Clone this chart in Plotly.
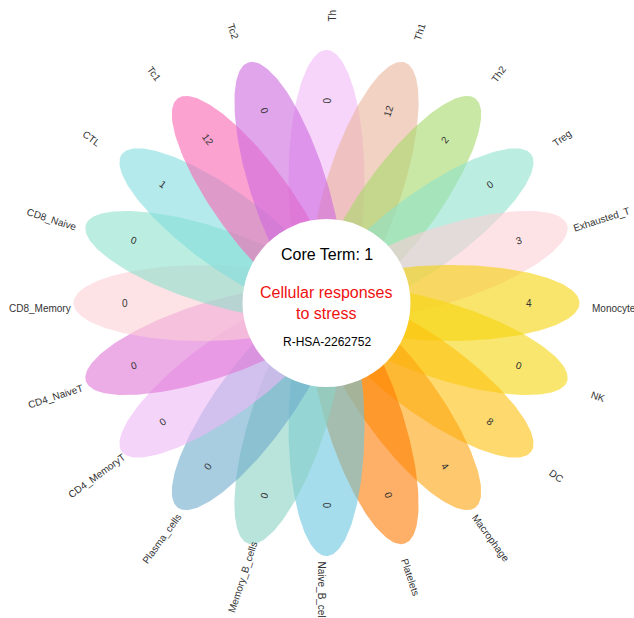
import numpy as np
import plotly.graph_objects as go

categories = ["Th", "Th1", "Th2", "Treg", "Exhausted_T", "Monocyte", "NK", "DC",
              "Macrophage", "Platelets", "Naive_B_cell", "Memory_B_cells",
              "Plasma_cells", "CD4_MemoryT", "CD4_NaiveT", "CD8_Memory",
              "CD8_Naive", "CTL", "Tc1", "Tc2"]
values = [0, 12, 2, 0, 3, 4, 0, 8, 4, 0, 0, 0, 0, 0, 0, 0, 0, 1, 12, 0]
colors = ["rgb(242,185,248)", "rgb(233,180,155)", "rgb(167,217,105)", "rgb(142,225,203)",
          "rgb(252,207,213)", "rgb(245,210,10)", "rgb(245,213,13)", "rgb(253,192,13)",
          "rgb(253,163,13)", "rgb(253,122,3)", "rgb(105,198,223)", "rgb(138,210,197)",
          "rgb(110,170,203)", "rgb(238,183,247)", "rgb(223,117,213)", "rgb(252,207,213)",
          "rgb(142,225,203)", "rgb(130,220,222)", "rgb(250,100,177)", "rgb(205,105,223)"]
core_count = 1
term_name = "Cellular responses<br>to stress"
term_id = "R-HSA-2262752"

W, H = 634, 618
CX, CY = 326.5, 303.0
PET_D, PET_A, PET_B = 124.0, 129.0, 38.0
ALPHA = 0.6
R_VAL, R_LAB, LAB_SHIFT = 202.0, 287.0, 5.0
R_CORE = 84.0
FONT = "Arial, Liberation Sans, sans-serif"

fig = go.Figure()
n = len(categories)
t = np.linspace(0, 2 * np.pi, 200)
annotations = []
for i, (cat, val, col) in enumerate(zip(categories, values, colors)):
    ang = 360.0 * i / n
    a = np.radians(ang)
    rx, ry = np.sin(a), -np.cos(a)      # radial direction (screen coords)
    px, py = np.cos(a), np.sin(a)       # perpendicular
    u = PET_D + PET_A * np.cos(t)
    v = PET_B * np.sin(t)
    xs = CX + u * rx + v * px
    ys = CY + u * ry + v * py
    rgb = col[4:-1]
    fig.add_trace(go.Scatter(x=xs, y=ys, mode="lines", fill="toself",
                             fillcolor=f"rgba({rgb},{ALPHA})",
                             line=dict(width=0), hoverinfo="skip", showlegend=False))
    rot = ang - 90 if ang <= 180 else ang - 270
    th = np.radians(rot)
    dx, dy = -np.sin(th), np.cos(th)    # text "down" direction
    annotations.append(dict(x=CX + R_VAL * rx, y=CY + R_VAL * ry, text=str(val),
                            showarrow=False, textangle=rot, xanchor="center", yanchor="middle",
                            font=dict(size=10, color="#333333", family=FONT)))
    annotations.append(dict(x=CX + R_LAB * rx + LAB_SHIFT * dx,
                            y=CY + R_LAB * ry + LAB_SHIFT * dy, text=cat,
                            showarrow=False, textangle=rot, xanchor="center", yanchor="middle",
                            font=dict(size=10, color="#333333", family=FONT)))

annotations.append(dict(x=CX, y=254, text=f"Core Term: {core_count}", showarrow=False,
                        xanchor="center", yanchor="middle",
                        font=dict(size=16, color="#000000", family=FONT)))
annotations.append(dict(x=CX, y=302.5, text=term_name, showarrow=False,
                        xanchor="center", yanchor="middle",
                        font=dict(size=16, color="#ee1111", family=FONT)))
annotations.append(dict(x=CX, y=342, text=term_id, showarrow=False,
                        xanchor="center", yanchor="middle",
                        font=dict(size=12, color="#000000", family=FONT)))

fig.update_layout(
    width=W, height=H, margin=dict(l=0, r=0, t=0, b=0),
    paper_bgcolor="white", plot_bgcolor="white",
    xaxis=dict(range=[0, W], visible=False, fixedrange=True),
    yaxis=dict(range=[H, 0], visible=False, fixedrange=True),
    shapes=[dict(type="circle", xref="x", yref="y",
                 x0=CX - R_CORE, x1=CX + R_CORE, y0=CY - R_CORE, y1=CY + R_CORE,
                 fillcolor="white", line=dict(width=0), layer="above")],
    annotations=annotations,
)
fig.write_html("out.html", config={"displayModeBar": False},
               post_script="document.body.style.margin='0px';document.body.style.overflow='hidden';")
